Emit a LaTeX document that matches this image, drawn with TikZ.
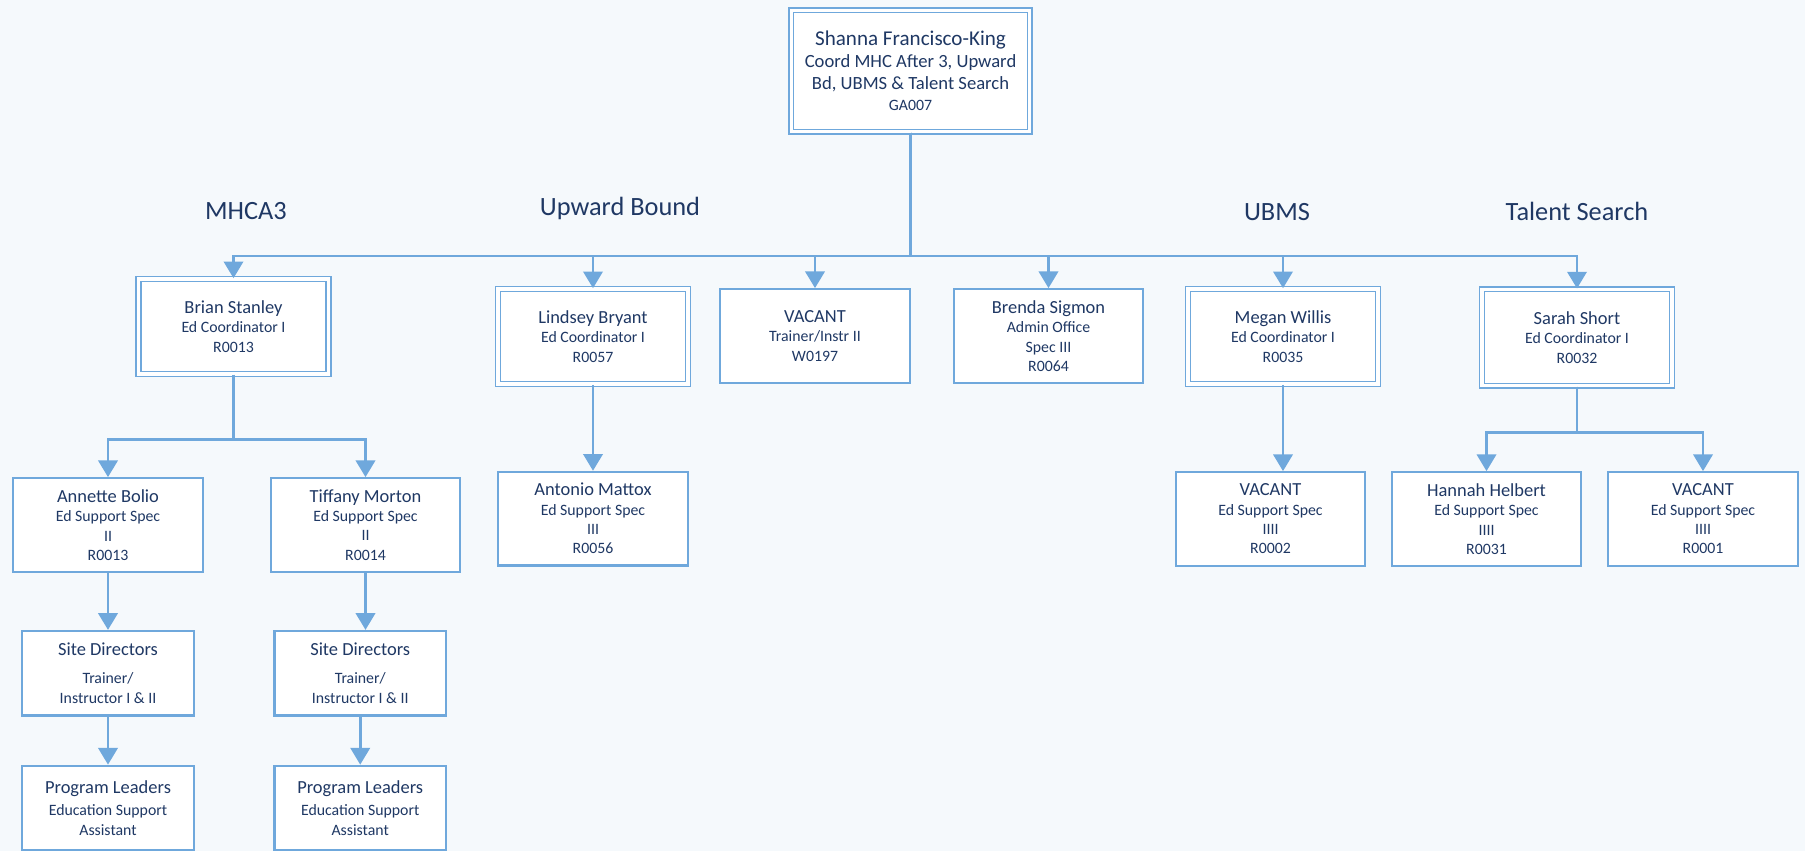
\documentclass[tikz,border=0pt]{standalone}
\usepackage{fontspec}
\setmainfont{Carlito}
\usetikzlibrary{arrows.meta, positioning, calc}

\definecolor{linec}{HTML}{6FA8DC}
\definecolor{txtc}{HTML}{1F3864}
\definecolor{bgc}{HTML}{F5F9FC}

\newcommand{\nm}[1]{{\fontsize{10.5}{12}\selectfont #1}}

\begin{document}
\begin{tikzpicture}[
    x=0.02cm, y=-0.02cm,
    post/.style={rectangle, draw=linec, line width=1.3pt, fill=white, text=txtc, align=center,
      font=\fontsize{9}{11}\selectfont, minimum width=3.79cm, minimum height=1.87cm, inner sep=1pt},
    lead/.style={post, line width=0.9pt, double=white, double distance=1.8pt, minimum width=3.8cm, minimum height=1.9cm},
    crew/.style={post, minimum width=3.43cm, minimum height=1.69cm},
    chief/.style={lead, minimum width=4.77cm, minimum height=2.43cm, font=\fontsize{10.6}{12.3}\selectfont},
    group/.style={font=\fontsize{15}{18}\selectfont, text=txtc, anchor=base},
    arr/.style={draw=linec, line width=1.5pt, -{Triangle[width=11pt,length=9.5pt]}},
    node distance=1.14cm
  ]
    \useasboundingbox (0,0) rectangle (1805,851);
    \fill[bgc] (0,0) rectangle (1805,851);

    % --- Top ---
    \node[chief] (top) at (910.5,71) {{\fontsize{12}{13}\selectfont Shanna Francisco-King}\\ Coord MHC After 3, Upward\\ Bd, UBMS \& Talent Search\\ {\fontsize{9}{11}\selectfont GA007}};

    % --- Program headings ---
    \node[group] (hmhc) at (246,220) {MHCA3};
    \node[group] (hub) at (620,215) {Upward Bound};
    \node[group] (hubms) at (1277,221) {UBMS};
    \node[group] (hts) at (1577,221) {Talent Search};

    % --- Coordinators ---
    \node[lead] (brian) at (233.5,326.5) {\nm{Brian Stanley}\\ Ed Coordinator I\\ R0013};
    \node[lead] (lindsey) at (593,336.5) {\nm{Lindsey Bryant}\\ Ed Coordinator I\\ R0057};
    \node[post] (vtrain) at (815,336) {\nm{VACANT}\\ Trainer/Instr II\\ W0197};
    \node[post] (brenda) at (1048.5,336) {\nm{Brenda Sigmon}\\ Admin Office\\ Spec III\\ R0064};
    \node[lead] (megan) at (1283,336.5) {\nm{Megan Willis}\\ Ed Coordinator I\\ R0035};
    \node[lead, minimum height=1.93cm] (sarah) at (1577,337.5) {\nm{Sarah Short}\\ Ed Coordinator I\\ R0032};

    % --- Support staff ---
    \node[post] (annette) at (108,525) {\nm{Annette Bolio}\\ Ed Support Spec\\ II\\ R0013};
    \node[post] (tiffany) at (365.5,525) {\nm{Tiffany Morton}\\ Ed Support Spec\\ II\\ R0014};
    \node[post, below=1.72cm of lindsey] (antonio) {\nm{Antonio Mattox}\\ Ed Support Spec\\ III\\ R0056};
    \node[post] (vubms) at (1270.5,519) {\nm{VACANT}\\ Ed Support Spec\\ IIII\\ R0002};
    \node[post] (hannah) at (1486.5,519) {\nm{Hannah Helbert}\\ Ed Support Spec\\ IIII\\ R0031};
    \node[post] (vts) at (1703,519) {\nm{VACANT}\\ Ed Support Spec\\ IIII\\ R0001};

    % --- Site staff ---
    \node[crew, below=of annette] (sitea) {\nm{Site Directors}\\[5pt] Trainer/\\ Instructor I \& II};
    \node[crew, below=of tiffany, xshift=-3pt] (siteb) {\nm{Site Directors}\\[5pt] Trainer/\\ Instructor I \& II};
    \node[crew, below=0.96cm of sitea] (leada) {\nm{Program Leaders}\\[1.5pt] Education Support\\ Assistant};
    \node[crew, below=0.96cm of siteb] (leadb) {\nm{Program Leaders}\\[1.5pt] Education Support\\ Assistant};

    % --- Arrows ---
    \coordinate (bus) at (0,256);
    \foreach \n in {brian, lindsey, vtrain, brenda, megan, sarah}
      \draw[arr] (top.south) -- (top.south |- bus) -| (\n.north);
    \draw[arr] (brian.south) -- ++(0,65) -| (annette.north);
    \draw[arr] (brian.south) -- ++(0,65) -| (tiffany.north);
    \draw[arr] (lindsey) -- (antonio);
    \draw[arr] (megan.south) -- (megan.south |- vubms.north);
    \draw[arr] (sarah.south) -- ++(0,46) -| (hannah.north);
    \draw[arr] (sarah.south) -- ++(0,46) -| (vts.north);
    \draw[arr] (annette) -- (sitea);
    \draw[arr] (tiffany.south) -- (tiffany.south |- siteb.north);
    \draw[arr] (sitea) -- (leada);
    \draw[arr] (siteb) -- (leadb);

  \end{tikzpicture}
\end{document}
